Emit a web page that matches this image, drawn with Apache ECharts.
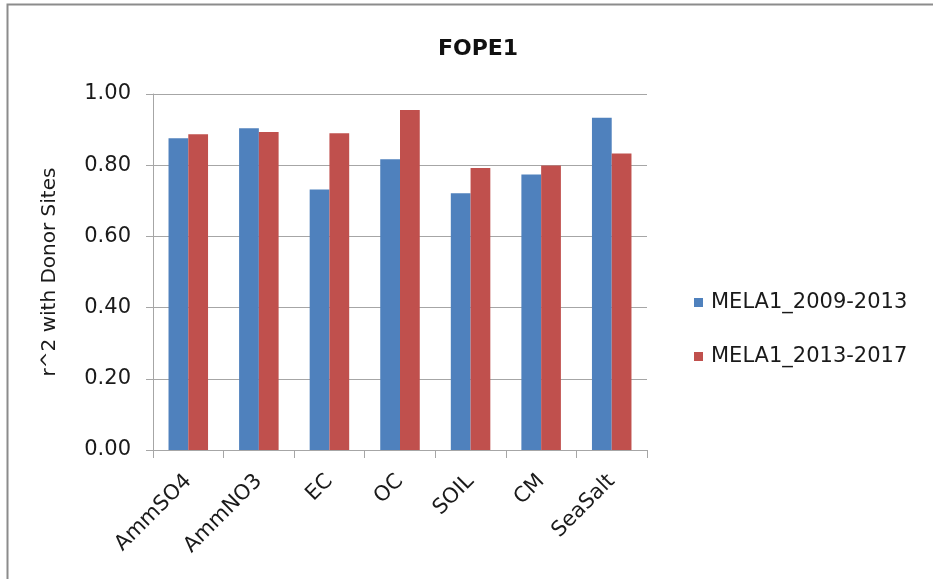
<!DOCTYPE html>
<html>
<head>
<meta charset="utf-8">
<script src="https://cdn.jsdelivr.net/npm/echarts@6/dist/echarts.min.js"></script>
<style>
  html, body { margin: 0; padding: 0; background: #fff; }
  #chart { width: 933px; height: 579px; }
</style>
</head>
<body>
<div id="chart"></div>
<script>
// Species measured at FOPE1
const categories = ['AmmSO4', 'AmmNO3', 'EC', 'OC', 'SOIL', 'CM', 'SeaSalt'];

// r^2 with donor sites for each period
const mela2009_2013 = [0.876, 0.904, 0.732, 0.817, 0.721, 0.774, 0.933];
const mela2013_2017 = [0.887, 0.893, 0.890, 0.955, 0.792, 0.799, 0.833];

const seriesNames = ['MELA1_2009-2013', 'MELA1_2013-2017'];
const yTicks = [0, 0.2, 0.4, 0.6, 0.8, 1.0];

const FONT = 'DejaVu Sans';
const gridColor = '#a6a6a6';

const chart = echarts.init(document.getElementById('chart'), null, { renderer: 'canvas' });

chart.setOption({
  backgroundColor: '#ffffff',
  animation: false,
  title: {
    text: 'FOPE1',
    left: 473,
    top: 33,
    textAlign: 'center',
    textStyle: { fontFamily: FONT, fontWeight: 'bold', fontSize: 22, color: '#111' }
  },
  legend: {
    orient: 'vertical',
    left: 689,
    top: 287,
    itemWidth: 9,
    itemHeight: 9,
    itemGap: 33,
    icon: 'rect',
    textStyle: { fontFamily: FONT, fontSize: 21, color: '#1a1a1a', padding: [0, 0, 0, 3] },
    data: seriesNames
  },
  grid: { left: 153, right: 286, top: 94, bottom: 129, containLabel: false },
  xAxis: {
    type: 'category',
    data: categories,
    axisLine: { lineStyle: { color: gridColor, width: 1 } },
    axisTick: { show: true, length: 8, alignWithLabel: false, lineStyle: { color: gridColor } },
    axisLabel: {
      rotate: 45,
      margin: 28,
      interval: 0,
      fontFamily: FONT,
      fontSize: 21,
      color: '#1a1a1a'
    }
  },
  yAxis: {
    type: 'value',
    min: yTicks[0],
    max: yTicks[yTicks.length - 1],
    interval: 0.2,
    name: 'r^2 with Donor Sites',
    nameLocation: 'middle',
    nameGap: 93,
    nameRotate: 90,
    nameTextStyle: { fontFamily: FONT, fontSize: 20, color: '#1a1a1a' },
    axisLine: { show: true, lineStyle: { color: gridColor, width: 1 } },
    axisTick: { show: true, length: 7, inside: false, lineStyle: { color: gridColor } },
    splitLine: { show: true, lineStyle: { color: gridColor, width: 1 } },
    axisLabel: {
      margin: 22,
      fontFamily: FONT,
      fontSize: 21,
      color: '#1a1a1a',
      formatter: v => v.toFixed(2)
    }
  },
  series: [
    {
      name: seriesNames[0],
      type: 'bar',
      data: mela2009_2013,
      barGap: '0%',
      barCategoryGap: '44%',
      itemStyle: { color: '#4f81bd' }
    },
    {
      name: seriesNames[1],
      type: 'bar',
      data: mela2013_2017,
      barGap: '0%',
      barCategoryGap: '44%',
      itemStyle: { color: '#c0504d' }
    }
  ],
  graphic: [
    {
      type: 'polyline',
      shape: { points: [[7.5, 579], [7.5, 4.5], [933, 4.5]] },
      style: { stroke: '#8c8c8c', lineWidth: 2, fill: null },
      silent: true
    }
  ]
});
</script>
</body>
</html>
